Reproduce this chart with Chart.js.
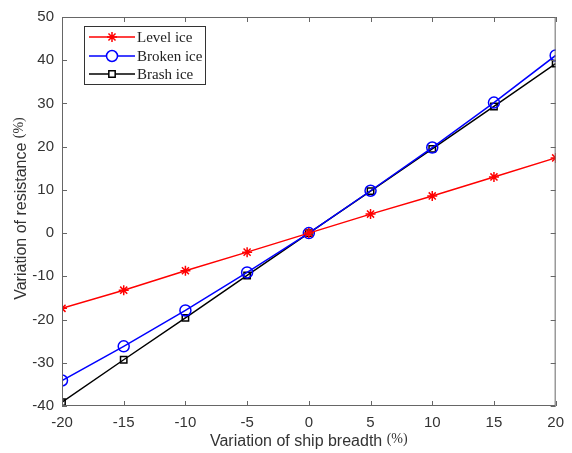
<html lang="en">
<head>
  <meta charset="UTF-8" />
  <title>Resistance vs ship breadth</title>
  <script src="https://cdn.jsdelivr.net/npm/chart.js"></script>
  <style>
    body { margin: 0; background: #ffffff; }
    #wrap { width: 572px; height: 453px; position: relative; }
  </style>
</head>
<body>
  <div id="wrap"><canvas id="chart"></canvas></div>

  <script>
    // data
    const breadth = [-20, -15, -10, -5, 0, 5, 10, 15, 20];
    const levelIce = [-17.4, -13.2, -8.7, -4.4, 0, 4.4, 8.6, 13.0, 17.4];
    const brokenIce = [-34.1, -26.2, -17.9, -9.1, 0, 9.8, 19.8, 30.2, 41.1];
    const brashIce = [-39.1, -29.3, -19.6, -9.8, 0, 9.7, 19.5, 29.3, 39.2];
    const seriesNames = ["Level ice", "Broken ice", "Brash ice"];
    const xTicks = [-20, -15, -10, -5, 0, 5, 10, 15, 20];
    const yTicks = [-40, -30, -20, -10, 0, 10, 20, 30, 40, 50];

    const textColor = "#333333";
    const axisColor = "#666666";

    function pts(ys) {
      return breadth.map((x, i) => ({ x: x, y: ys[i] }));
    }

    // box, inward ticks, titles and legend in MATLAB style
    const matlabAxes = {
      id: "matlabAxes",
      afterDraw(chart) {
        const ctx = chart.ctx;
        const a = chart.chartArea;
        const xs = chart.scales.x, ys = chart.scales.y;
        ctx.save();
        ctx.strokeStyle = axisColor;
        ctx.lineWidth = 1;
        ctx.strokeRect(a.left + 0.5, a.top + 0.5, a.right - a.left - 1, a.bottom - a.top - 1);
        const tl = 5;
        ctx.beginPath();
        xTicks.forEach(v => {
          const px = Math.round(xs.getPixelForValue(v)) + 0.5;
          ctx.moveTo(px, a.bottom); ctx.lineTo(px, a.bottom - tl);
          ctx.moveTo(px, a.top); ctx.lineTo(px, a.top + tl);
        });
        yTicks.forEach(v => {
          const py = Math.round(ys.getPixelForValue(v)) + 0.5;
          ctx.moveTo(a.left, py); ctx.lineTo(a.left + tl, py);
          ctx.moveTo(a.right, py); ctx.lineTo(a.right - tl, py);
        });
        ctx.stroke();

        // axis titles
        const sans = "16px 'Liberation Sans', Arial, sans-serif";
        const serif = "14px 'Liberation Serif', 'Times New Roman', serif";
        ctx.fillStyle = textColor;
        ctx.textBaseline = "alphabetic";
        ctx.textAlign = "left";
        const xMain = "Variation of ship breadth ";
        ctx.font = sans;
        const w1 = ctx.measureText(xMain).width;
        ctx.font = serif;
        const w2 = ctx.measureText("(%)").width;
        let sx = (a.left + a.right) / 2 - (w1 + w2) / 2;
        ctx.font = sans;
        ctx.fillText(xMain, sx, 446);
        ctx.font = serif;
        ctx.fillText("(%)", sx + w1, 443);

        ctx.save();
        ctx.translate(26, (a.top + a.bottom) / 2 - 3);
        ctx.rotate(-Math.PI / 2);
        const yMain = "Variation of resistance ";
        ctx.font = sans;
        const v1 = ctx.measureText(yMain).width;
        ctx.font = serif;
        const v2 = ctx.measureText("(%)").width;
        sx = -(v1 + v2) / 2;
        ctx.font = sans;
        ctx.fillText(yMain, sx, 0);
        ctx.font = serif;
        ctx.fillText("(%)", sx + v1, -3);
        ctx.restore();

        // legend
        const lx = 84, ly = 26, lw = 121, lh = 58;
        ctx.fillStyle = "#ffffff";
        ctx.fillRect(lx, ly, lw, lh);
        ctx.strokeStyle = "#333333";
        ctx.lineWidth = 1;
        ctx.strokeRect(lx + 0.5, ly + 0.5, lw, lh);
        const rows = [37, 56, 74];
        chart.data.datasets.forEach((ds, i) => {
          const y = rows[i];
          ctx.strokeStyle = ds.borderColor;
          ctx.lineWidth = 1.5;
          ctx.beginPath();
          ctx.moveTo(89, y); ctx.lineTo(135, y);
          ctx.stroke();
          ctx.fillStyle = "#ffffff";
          Chart.helpers.drawPoint(ctx, {
            pointStyle: ds.pointStyle,
            radius: ds.pointRadius,
            borderWidth: ds.pointBorderWidth,
            rotation: 0
          }, 112, y);
          ctx.fillStyle = "#222222";
          ctx.font = "15px 'Liberation Serif', 'Times New Roman', serif";
          ctx.textAlign = "left";
          ctx.textBaseline = "middle";
          ctx.fillText(ds.label, 137, y + 1);
        });
        ctx.restore();
      }
    };

    function series(label, ys, color, style, radius) {
      return {
        label: label,
        data: pts(ys),
        showLine: true,
        borderColor: color,
        backgroundColor: "rgba(0,0,0,0)",
        borderWidth: 1.5,
        pointStyle: style,
        pointRadius: radius,
        pointBorderWidth: 1.5,
        pointBorderColor: color,
        pointBackgroundColor: "rgba(0,0,0,0)"
      };
    }

    new Chart(document.getElementById("chart"), {
      type: "scatter",
      data: {
        datasets: [
          series(seriesNames[0], levelIce, "#ff0000", "star", 5),
          series(seriesNames[1], brokenIce, "#0000ff", "circle", 5.5),
          series(seriesNames[2], brashIce, "#000000", "rect", 4.5)
        ]
      },
      options: {
        responsive: true,
        maintainAspectRatio: false,
        animation: false,
        layout: { padding: { left: 0, right: 15, top: 16, bottom: 0 } },
        plugins: {
          legend: { display: false },
          tooltip: { enabled: false }
        },
        scales: {
          x: {
            type: "linear",
            min: -20, max: 20,
            afterBuildTicks: s => { s.ticks = xTicks.map(v => ({ value: v })); },
            afterFit: s => { s.height = 47; },
            grid: { display: false, drawTicks: false },
            border: { display: false },
            ticks: {
              padding: 8,
              color: textColor,
              font: { family: "'Liberation Sans', Arial, sans-serif", size: 15 }
            }
          },
          y: {
            type: "linear",
            min: -40, max: 50,
            afterBuildTicks: s => { s.ticks = yTicks.map(v => ({ value: v })); },
            afterFit: s => { s.width = 62; },
            grid: { display: false, drawTicks: false },
            border: { display: false },
            ticks: {
              padding: 8,
              color: textColor,
              font: { family: "'Liberation Sans', Arial, sans-serif", size: 15 }
            }
          }
        }
      },
      plugins: [matlabAxes]
    });
  </script>
</body>
</html>
